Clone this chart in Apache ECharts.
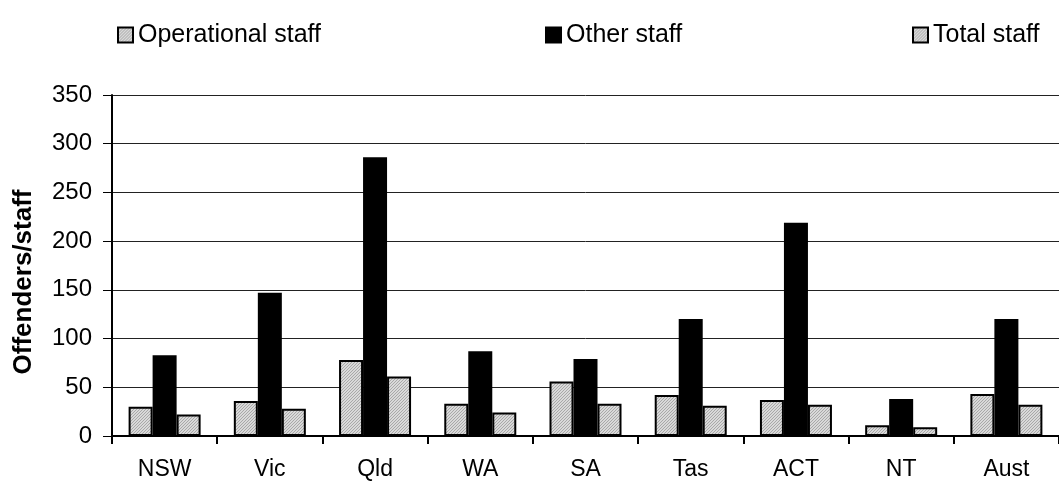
<!DOCTYPE html>
<html>
<head>
<meta charset="utf-8">
<script src="https://cdn.jsdelivr.net/npm/echarts@6/dist/echarts.min.js"></script>
<style>
  html, body { margin: 0; padding: 0; background: #fff; }
  #chart { width: 1059px; height: 481px; }
</style>
</head>
<body>
<div id="chart"></div>
<script>
// Offenders per staff member by jurisdiction
const categories = ['NSW', 'Vic', 'Qld', 'WA', 'SA', 'Tas', 'ACT', 'NT', 'Aust'];
const operationalStaff = [30, 36, 78, 33, 56, 42, 37, 11, 43];
const otherStaff = [83, 147, 286, 87, 79, 120, 219, 38, 120];
const totalStaff = [22, 28, 61, 24, 33, 31, 32, 9, 32];
const yTicks = { min: 0, max: 350, interval: 50 };

// Fine grey hatch fill
function hatch() {
  const c = document.createElement('canvas');
  c.width = 3; c.height = 3;
  const g = c.getContext('2d');
  g.fillStyle = '#d9d9d9';
  g.fillRect(0, 0, 3, 3);
  g.fillStyle = '#a8a8a8';
  for (let i = 0; i < 3; i++) g.fillRect(i, 2 - i, 1, 1);
  return { image: c, repeat: 'repeat' };
}

const font = '"Liberation Sans", Arial, sans-serif';
const hatchFill = hatch();
const border = { borderColor: '#000', borderWidth: 2 };

const legendBase = {
  top: 17,
  itemWidth: 15,
  itemHeight: 15,
  icon: 'rect',
  textStyle: { fontFamily: font, fontSize: 25, color: '#000', lineHeight: 26 }
};

const chart = echarts.init(document.getElementById('chart'));
chart.setOption({
  animation: false,
  backgroundColor: '#fff',
  legend: [
    Object.assign({ left: 112, data: ['Operational staff'] }, legendBase),
    Object.assign({ left: 540, data: ['Other staff'] }, legendBase),
    Object.assign({ left: 907, data: ['Total staff'] }, legendBase)
  ],
  grid: { left: 112, top: 95, height: 342, width: 954 },
  xAxis: {
    type: 'category',
    data: categories,
    axisLine: { lineStyle: { color: '#000', width: 2 } },
    axisTick: { show: true, length: 8, lineStyle: { color: '#000', width: 2 } },
    axisLabel: { fontFamily: font, fontSize: 23, color: '#000', margin: 22 }
  },
  yAxis: {
    type: 'value',
    min: yTicks.min,
    max: yTicks.max,
    interval: yTicks.interval,
    axisLine: { show: true, lineStyle: { color: '#000', width: 2 } },
    axisTick: { show: true, length: 9, lineStyle: { color: '#000', width: 1 } },
    axisLabel: { fontFamily: font, fontSize: 24, color: '#000', margin: 20 },
    splitLine: { lineStyle: { color: '#222', width: 1 } }
  },
  graphic: [{
    type: 'text',
    x: 24,
    y: 282,
    rotation: Math.PI / 2,
    style: {
      text: 'Offenders/staff',
      font: 'bold 26px ' + font,
      fill: '#000',
      align: 'center',
      verticalAlign: 'middle'
    }
  }],
  series: [
    { name: 'Operational staff', type: 'bar', data: operationalStaff, barWidth: 24, barGap: '0%',
      itemStyle: Object.assign({ color: hatchFill }, border) },
    { name: 'Other staff', type: 'bar', data: otherStaff, barWidth: 24, barGap: '0%',
      itemStyle: Object.assign({ color: '#000' }, border) },
    { name: 'Total staff', type: 'bar', data: totalStaff, barWidth: 24, barGap: '0%',
      itemStyle: Object.assign({ color: hatchFill }, border) }
  ]
});
</script>
</body>
</html>
